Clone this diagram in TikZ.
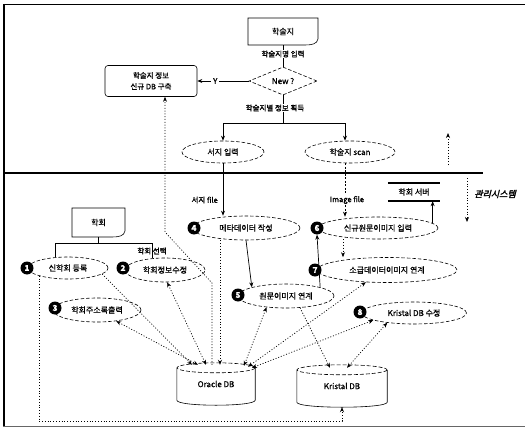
\documentclass[tikz,border=0pt]{standalone}
\usepackage{fontspec}
\setmainfont[FakeBold=0.8]{Noto Sans CJK KR}
\newfontfamily\krb[FakeBold=1.6]{Noto Sans CJK KR}
\newfontfamily\krsl[FakeBold=2.5,FakeSlant=0.25]{Noto Sans CJK KR}
\usetikzlibrary{shapes.geometric,arrows.meta,calc}
\newcommand\docoutline[4]{\draw[thinline] (#1,#4) -- (#1,#2) -- (#3,#2) -- (#3,#4-6) .. controls (#3-1,#4-1) and (#3-6,#4) .. (#3-13,#4) -- cycle;}
\newcommand\cylout[2]{%
  \draw[thinline] ($(#1.north west)+(0,5)$) -- ($(#1.south west)+(0,-5)$) .. controls ($(#1.south west)+(0,1.67)$) and ($(#1.south east)+(0,1.67)$) .. ($(#1.south east)+(0,-5)$) -- ($(#1.north east)+(0,5)$);
  \draw[thinline,dash pattern=on 4pt off 2pt] ($(#1.north)+(0,5)$) ellipse [x radius=#2, y radius=5];}
\begin{document}
\begin{tikzpicture}[x=1pt,y=-1pt,
  thinline/.style={line width=0.6pt},
  every node/.style={font=\fontsize{8}{9}\selectfont, inner sep=1pt},
  ell/.style={ellipse, draw, dash pattern=on 3.5pt off 2pt, line width=0.6pt, inner sep=0pt},
  numc/.style={circle, fill=black, text=white, inner sep=0pt, minimum size=13pt, font=\fontsize{8}{8}\selectfont\bfseries},
  arrowtip/.style={-{Stealth[length=5pt,width=4pt]}},
  solidarr/.style={line width=0.7pt, arrowtip},
  dotarr/.style={line width=0.7pt, dash pattern=on 1pt off 1.8pt, arrowtip},
  dasharr/.style={line width=0.6pt, dash pattern=on 2pt off 1.5pt, arrowtip},
  dbiarr/.style={line width=0.7pt, dash pattern=on 1pt off 1.8pt, {Stealth[length=5pt,width=4pt]}-{Stealth[length=5pt,width=4pt]}},
  lbl/.style={font=\krb\fontsize{7.5}{8}\selectfont},
]
\useasboundingbox (0,0) rectangle (525,428);
% frame
\draw[line width=2pt] (4,4) -- (4,427);
\draw[line width=1pt] (3,5) -- (525,5);
\draw[line width=1pt, black!60] (3,426) -- (525,426);

% top flow
\node[minimum width=70pt, minimum height=27pt] (jdoc) at (283,31.5) {학술지};
\docoutline{248}{18}{318}{45}
\node[diamond, draw, dash pattern=on 3.5pt off 2pt, line width=0.6pt, aspect=2.4, minimum width=68pt, minimum height=28pt, inner sep=0pt] (new) at (283,81) {New ?};
\draw[thinline] (jdoc.south) -- (new.north);
\node[lbl, fill=white] (jname) at (283,54) {학술지명 입력};
\node[draw, thinline, rounded corners=3pt, minimum width=92pt, minimum height=31pt, align=center, font=\fontsize{7.5}{11}\selectfont] (newdb) at (151,81) {학술지 정보\\신규 DB 구축};
\draw[solidarr] (new.west) -- node[pos=0.65, fill=white, inner sep=2pt] (ylbl) {Y} (newdb.east);

\coordinate (split) at (283,123);
\draw[thinline] (new.south) -- (split);
\node[lbl, fill=white] (getinfo) at (275,108) {학술지별 정보 획득};
\node[ell, minimum width=82pt, minimum height=22pt] (seoji) at (223,152) {서지 입력};
\node[ell, minimum width=90pt, minimum height=22pt] (scan) at (350,152) {학술지 scan};
\draw[solidarr] (split) -| (seoji.north);
\draw[solidarr] (split) -| ([xshift=-5pt]scan.north);

% separator
\draw[line width=2.5pt] (5,173) -- (483,173);
\coordinate (upa) at (448,165); \coordinate (upb) at (448,133);
\draw[dotarr] (upa) -- (upb);
\coordinate (dna) at (467,178); \coordinate (dnb) at (467,222);
\draw[dotarr] (dna) -- (dnb);
\node[font=\krsl\fontsize{9}{10}\selectfont] (mgmt) at (495,194) {관리시스템};

% server
\node[minimum width=52pt, minimum height=18pt] (server) at (414,192) {학회 서버};
\draw[line width=1.6pt] (server.north west) -- (server.north east);
\draw[line width=1.6pt] (server.south west) -- (server.south east);

% ellipses
\node[ell, minimum width=108pt, minimum height=24pt] (meta) at (246,228) {메타데이터 작성};
\node[ell, minimum width=120pt, minimum height=22pt] (img) at (378,228) {신규원문이미지 입력};
\node[ell, minimum width=140pt, minimum height=25pt] (retro) at (387,270) {소급데이터이미지 연계};
\node[ell, minimum width=96pt, minimum height=24pt] (orig) at (286,296) {원문이미지 연계};
\node[ell, minimum width=105pt, minimum height=22pt] (kfix) at (414,313) {Kristal DB 수정};
\node[ell, minimum width=80pt, minimum height=22pt] (reg) at (68,268) {신학회 등록};
\node[ell, minimum width=80pt, minimum height=24pt] (upd) at (165,270) {학회정보수정};
\node[ell, minimum width=88pt, minimum height=24pt] (addr) at (97,310) {학회주소록출력};

% number circles
\node[numc] (n1) at (27,268) {1};
\node[numc] (n2) at (123,268) {2};
\node[numc] (n3) at (55,308) {3};
\node[numc] (n4) at (194,228) {4};
\node[numc] (n5) at (238,295) {5};
\node[numc] (n6) at (317,228) {6};
\node[numc] (n7) at (315,270) {7};
\node[numc] (n8) at (360,312) {8};

% databases
\node[minimum width=78pt, minimum height=42pt] (oracle) at (216,384) {Oracle DB};
\cylout{oracle}{39}
\node[minimum width=90pt, minimum height=42pt] (kristal) at (342,386) {Kristal DB};
\cylout{kristal}{45}

% society document
\node[minimum width=53pt, minimum height=29pt] (hdoc) at (98.5,222.5) {학회};
\docoutline{72}{208}{125}{237}
\coordinate (hb) at (98.5,243);
\coordinate (hl) at (55,243); \coordinate (hr) at (152,243);
\draw[thinline] (hdoc.south) -- (hb);
\draw[thinline] (hl) -- (hr);
\draw[thinline] (hl) -- (hl |- reg.north);
\draw[thinline] (hr) -- (hr |- upd.north);
\node[lbl] (hsel) at (152,251) {학회 선택};

% file flows
\draw[solidarr] (seoji.south) -- (seoji.south |- meta.north);
\node[lbl, anchor=east] (sfile) at (219,200) {서지 file};
\draw[dasharr] ([xshift=-5pt]scan.south) -- ([xshift=-5pt]scan.south |- img.north);
\node[lbl, fill=white] (ifile) at (347,200) {Image file};

\draw[solidarr] (img.5) -- (img.5 |- server.south);
\draw[solidarr] (meta.south) -- (orig.north west);
\draw[solidarr] (orig.north east) -- (n6.south);
\draw[dotarr] ([xshift=-35pt]img.south) -- ([xshift=-35pt]img.south |- retro.north);

% database links
\draw[dotarr] (reg.-10) -- ($(oracle.north)+(-24,2)$);
\draw[dbiarr] (addr.-30) -- ($(oracle.north)+(-18,2)$);
\draw[dbiarr] (upd.-80) -- ($(oracle.north)+(-10,2)$);
\coordinate (ra) at (212,283); \coordinate (rt) at (165,232);
\draw[dotarr] ($(oracle.north)+(-4,2)$) -- (ra) -- (rt) -- (rt |- newdb.south);
\draw[dotarr] ($(meta.south)+(-26,0)$) -- ($(oracle.north)+(4,2)$);
\draw[dbiarr] (orig.-150) -- ($(oracle.north)+(28,3)$);
\draw[dotarr] (orig.-40) -- ($(kristal.north)+(-12,3)$);
\draw[dbiarr] (retro.-150) -- ($(oracle.north)+(32,4)$);
\draw[dbiarr] (kfix.190) -- ($(oracle.north)+(36,5)$);
\draw[dbiarr] (kfix.-160) -- ($(kristal.north)+(5,3)$);
\coordinate (loopy) at (0,421);
\draw[dotarr] (reg.-165) -- (reg.-165 |- loopy) -| (kristal.south);
\end{tikzpicture}
\end{document}
